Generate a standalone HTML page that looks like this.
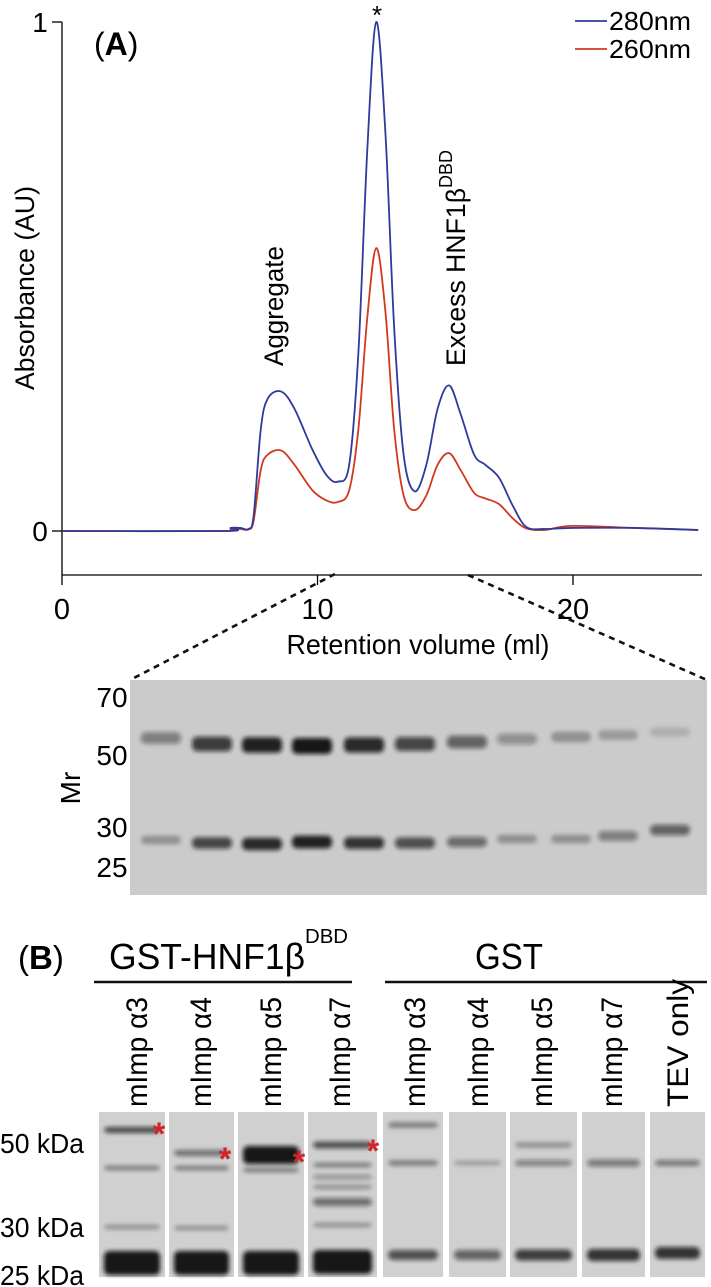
<!DOCTYPE html>
<html><head><meta charset="utf-8"><style>
html,body{margin:0;padding:0;background:#fff;}
svg{display:block;font-family:"Liberation Sans",Arial,sans-serif;}
</style></head><body>
<svg id="fig" width="711" height="1287" viewBox="0 0 711 1287" xmlns="http://www.w3.org/2000/svg">
<defs>
<filter id="blur" x="-20%" y="-80%" width="140%" height="260%"><feGaussianBlur stdDeviation="2.2"/></filter>
</defs>
<g id="chartA"></g>
<g id="gelA"></g>
<g id="panelB"></g>
</svg>
<script>
const volumes = [0,6.36,6.6,6.98,7.3,7.5,7.78,8.05,8.58,9.1,9.8,10.35,10.8,11.24,11.6,11.95,12.3,12.66,13.0,13.37,13.8,14.26,14.7,15.15,15.6,16.13,16.57,17.1,17.64,18.17,18.9,19.95,22.4,24.9];
const abs280 = [0,0,0.006,0.006,0.004,0.03,0.2,0.26,0.274,0.24,0.16,0.11,0.097,0.13,0.35,0.75,1.0,0.78,0.4,0.15,0.078,0.13,0.24,0.286,0.23,0.15,0.13,0.105,0.05,0.008,0.004,0.006,0.006,0.002];
const abs260 = [0,0,0.004,0.004,0.003,0.02,0.12,0.15,0.158,0.13,0.08,0.06,0.057,0.08,0.2,0.42,0.556,0.43,0.2,0.07,0.041,0.07,0.13,0.153,0.12,0.075,0.064,0.053,0.025,0.005,0.002,0.01,0.006,0.002];
const xTicks = [0,10,20];
const yTicks = [0,1];
const gelAUpper = [0.45,0.8,0.95,1.0,0.9,0.75,0.6,0.35,0.3,0.25,0.15];
const gelALower = [0.3,0.75,0.9,0.95,0.85,0.7,0.55,0.3,0.3,0.45,0.6];
const gelAMarkers = ["70","50","30","25"];
const laneLabelsB = ["mImp α3","mImp α4","mImp α5","mImp α7","mImp α3","mImp α4","mImp α5","mImp α7","TEV only"];

const NS="http://www.w3.org/2000/svg";
function mk(tag,attrs,parent,text){const e=document.createElementNS(NS,tag);for(const k in attrs)e.setAttribute(k,attrs[k]);if(text!==undefined)e.textContent=text;parent.appendChild(e);return e;}
const xS=v=>62+v*25.55;
const yS=v=>531-v*509;

// ---- Chart A ----
const A=document.getElementById('chartA');
let ax=mk('line',{x1:62,y1:22,x2:62,y2:575,stroke:'#000','stroke-width':1.3},A);

ax=mk('line',{x1:62,y1:575,x2:702,y2:575,stroke:'#000','stroke-width':1.3},A);

yTicks.forEach(t=>{
  const y=yS(t);
  const tk=mk('line',{x1:52,y1:y,x2:62,y2:y,stroke:'#000','stroke-width':1.3},A);
  
  const l=mk('text',{x:40,y:y+10,'font-size':28,'text-anchor':'middle'},A,String(t));
  
});
xTicks.forEach(t=>{
  const x=xS(t);
  const tk=mk('line',{x1:x,y1:575,x2:x,y2:585,stroke:'#000','stroke-width':1.3},A);
  
  const l=mk('text',{x:x,y:619,'font-size':29,'text-anchor':'middle'},A,String(t));
  
});
let t=mk('text',{x:418,y:654,'font-size':28,'text-anchor':'middle',textLength:263,lengthAdjust:'spacingAndGlyphs'},A,'Retention volume (ml)');

t=mk('text',{x:0,y:0,'font-size':27,'text-anchor':'middle',transform:'translate(34,288) rotate(-90)',textLength:204,lengthAdjust:'spacingAndGlyphs'},A,'Absorbance (AU)');


function pathFrom(vals){
  const p=volumes.map((v,i)=>[xS(v),yS(vals[i])]);
  let d='M'+p[0][0]+','+p[0][1];
  for(let i=0;i<p.length-1;i++){
    const p0=p[Math.max(0,i-1)],p1=p[i],p2=p[i+1],p3=p[Math.min(p.length-1,i+2)];
    const c1=[p1[0]+(p2[0]-p0[0])/6,p1[1]+(p2[1]-p0[1])/6];
    const c2=[p2[0]-(p3[0]-p1[0])/6,p2[1]-(p3[1]-p1[1])/6];
    d+=` C${c1[0]},${c1[1]} ${c2[0]},${c2[1]} ${p2[0]},${p2[1]}`;
  }
  return d;
}
let s=mk('path',{d:pathFrom(abs260),fill:'none',stroke:'#d2381e','stroke-width':1.8},A);

s=mk('path',{d:pathFrom(abs280),fill:'none',stroke:'#2e3a9c','stroke-width':1.8},A);


// legend
[['280nm','#2e3a9c',21],['260nm','#d2381e',49]].forEach(([lab,c,y])=>{
  const g=mk('g',{},A);
  
  mk('line',{x1:575,y1:y,x2:607,y2:y,stroke:c,'stroke-width':1.8},g);
  mk('text',{x:609,y:y+9,'font-size':26,textLength:82,lengthAdjust:'spacingAndGlyphs'},g,lab);
});
t=mk('text',{x:94,y:55,'font-size':32},A);

t.innerHTML='(<tspan font-weight="bold">A</tspan>)';
t=mk('text',{x:377,y:24,'font-size':26,'text-anchor':'middle'},A,'*');

t=mk('text',{x:0,y:0,'font-size':27,'text-anchor':'start',transform:'translate(283,366) rotate(-90)',textLength:120,lengthAdjust:'spacingAndGlyphs'},A,'Aggregate');

t=mk('text',{x:0,y:0,'font-size':27,transform:'translate(465,366) rotate(-90)'},A);

t.innerHTML='<tspan textLength="178" lengthAdjust="spacingAndGlyphs">Excess HNF1β</tspan><tspan font-size="18" dy="-13">DBD</tspan>';

// dashed lines
[[335,574,130,680],[468,575,707,680]].forEach(([a,b,c,d])=>{
  const l=mk('line',{x1:a,y1:b,x2:c,y2:d,stroke:'#111','stroke-width':2.6,'stroke-dasharray':'6,5'},A);
  
});

// ---- Gel A ----
const G=document.getElementById('gelA');
let r=mk('rect',{x:130,y:680,width:577,height:215,fill:'#cbcbcb'},G);

const laneX=[161,212,262,312,364,415,467,517,571,618,670];
const upY=[738,744,745,746,745,744,742,739,737,735,732];
const loY=[840,843,844,842,843,843,842,839,839,836,830];
function band(parent,cx,cy,w,h,inten){
  const b=mk('rect',{x:cx-w/2,y:cy-h/2,width:w,height:h,rx:5,fill:'#111','fill-opacity':Math.min(1,inten*0.95),filter:'url(#blur)'},parent);
  
}
gelAUpper.forEach((v,i)=>band(G,laneX[i],upY[i],40,8+v*8,v));
gelALower.forEach((v,i)=>band(G,laneX[i],loY[i],40,7+v*6,v));
const markY=[697,755,827,867];
gelAMarkers.forEach((m,i)=>{
  const l=mk('text',{x:112,y:markY[i]+10,'font-size':28,'text-anchor':'middle'},G,m);
  
});
t=mk('text',{x:0,y:0,'font-size':28,'text-anchor':'middle',transform:'translate(80,788) rotate(-90)'},G,'Mr');


// ---- Panel B ----
const B=document.getElementById('panelB');
t=mk('text',{x:18,y:969,'font-size':33},B);

t.innerHTML='(<tspan font-weight="bold">B</tspan>)';
t=mk('text',{x:109,y:969,'font-size':36},B);

t.innerHTML='<tspan textLength="196" lengthAdjust="spacingAndGlyphs">GST-HNF1β</tspan><tspan font-size="20" dy="-26" textLength="43" lengthAdjust="spacingAndGlyphs">DBD</tspan>';
t=mk('text',{x:509,y:969,'font-size':36,'text-anchor':'middle',textLength:68,lengthAdjust:'spacingAndGlyphs'},B,'GST');

[[94,352],[385,707]].forEach(([a,b])=>{
  const l=mk('line',{x1:a,y1:982,x2:b,y2:982,stroke:'#111','stroke-width':2.5},B);
  
});
const labX=[136,200,270,339,414,477,541,611,677];
laneLabelsB.forEach((lab,i)=>{
  const l=mk('text',{x:0,y:0,'font-size':30,transform:`translate(${labX[i]+11},1107) rotate(-90)`,textLength:lab==='TEV only'?128:110,lengthAdjust:'spacingAndGlyphs'},B,lab);
  
});
const panels=[[99,165],[169,234],[238,304],[308,377],[383,443],[449,506],[510,577],[582,645],[650,705]];
const panelBands=[
 [[1130,0.75,6],[1168,0.4,5],[1227,0.3,5],[1263,1,24]],
 [[1153,0.55,6],[1168,0.4,5],[1228,0.3,5],[1263,1,24]],
 [[1155,1,18],[1170,0.4,5],[1263,1,24]],
 [[1145,0.7,7],[1165,0.4,5],[1177,0.35,5],[1187,0.3,5],[1202,0.55,8],[1225,0.3,5],[1262,1,24]],
 [[1125,0.4,6],[1163,0.4,6],[1255,0.7,10]],
 [[1163,0.25,5],[1255,0.6,10]],
 [[1145,0.3,6],[1163,0.45,6],[1255,0.8,11]],
 [[1163,0.5,7],[1255,0.85,12]],
 [[1163,0.5,6],[1253,0.85,12]]
];
panels.forEach(([a,b],i)=>{
  const g=mk('g',{},B);
  
  mk('rect',{x:a,y:1112,width:b-a,height:165,fill:'#d0d0d0'},g);
  panelBands[i].forEach(([y,v,h])=>band(g,(a+b)/2,y,(b-a)-10,h,v));
});
[[159,1130],[225,1155],[299,1158],[373,1147]].forEach(([x,y])=>{
  const l=mk('text',{x:x,y:y+15,'font-size':32,'text-anchor':'middle',fill:'#d0242a','font-weight':'bold'},B,'*');
  
});
[['50 kDa',1143],['30 kDa',1227],['25 kDa',1275]].forEach(([lab,y])=>{
  const l=mk('text',{x:0,y:y+10,'font-size':28,textLength:84,lengthAdjust:'spacingAndGlyphs'},B,lab);
  
});
</script>
</body></html>
